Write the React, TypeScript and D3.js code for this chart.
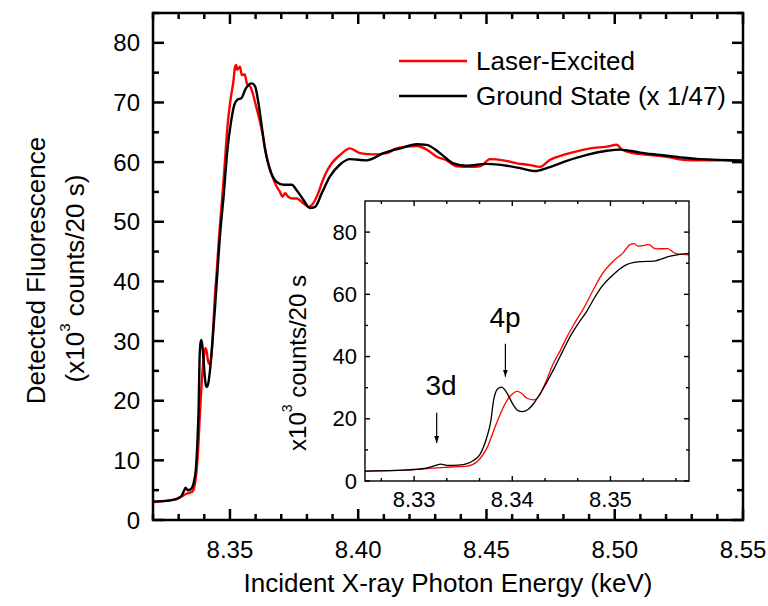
import React from "react";
import * as d3 from "d3";

// ---------- data ----------
const groundE = [
  8.32, 8.325, 8.329, 8.33, 8.3312, 8.3322, 8.3327, 8.3335, 8.3345, 8.3354, 8.336, 8.3367,
  8.3374, 8.3378, 8.3381, 8.3385, 8.3389, 8.3394, 8.3401, 8.3406, 8.341, 8.3416, 8.3422,
  8.3432, 8.3442, 8.3451, 8.3459, 8.3468, 8.3476, 8.3483, 8.349, 8.3503, 8.3517, 8.353,
  8.3544, 8.3561, 8.3585, 8.3598, 8.3611, 8.3624, 8.3637, 8.3656, 8.3682, 8.3708, 8.3741,
  8.376, 8.3786, 8.3812, 8.3832, 8.3858, 8.389, 8.3929, 8.3968, 8.4033, 8.4098, 8.4163,
  8.4228, 8.4267, 8.4319, 8.4371, 8.4423, 8.4501, 8.4579, 8.4631, 8.4689, 8.4735, 8.4813,
  8.4891, 8.4969, 8.5021, 8.5099, 8.5177, 8.5255, 8.5333, 8.55,
];
const groundV = [
  3.1, 3.2, 3.5, 3.7, 4.1, 5.0, 5.4, 5.0, 5.1, 5.6, 6.5, 8.5,
  14.0, 19.0, 26.0, 29.6, 30.2, 28.6, 24.5, 22.6, 22.3, 23.0, 25.0,
  30.0, 35.8, 41.5, 46.5, 51.0, 54.6, 58.5, 62.0, 66.4, 69.6, 70.5,
  70.7, 72.3, 73.2, 72.7, 69.9, 66.0, 62.1, 58.7, 56.7, 56.2, 56.2,
  55.3, 53.7, 52.3, 52.5, 54.8, 57.6, 59.6, 60.5, 60.3, 61.5, 62.3,
  63.0, 62.9, 61.5, 59.8, 59.4, 59.7, 59.4, 59.0, 58.5, 59.0, 60.2,
  61.2, 61.9, 62.1, 61.6, 61.2, 60.8, 60.5, 60.3,
];

const laserE = [
  8.32, 8.325, 8.329, 8.331, 8.3331, 8.3345, 8.3354, 8.3364, 8.3374, 8.3384, 8.3393, 8.34,
  8.3405, 8.3409, 8.3415, 8.3422, 8.3428, 8.3435, 8.3442, 8.3449, 8.3456, 8.3464, 8.3473,
  8.3481, 8.349, 8.3503, 8.3513, 8.352, 8.3524, 8.3528, 8.3535, 8.3539, 8.3546, 8.3558,
  8.3566, 8.3581, 8.3604, 8.3624, 8.3643, 8.3663, 8.3682, 8.3695, 8.3705, 8.3715, 8.3727,
  8.3745, 8.376, 8.3786, 8.3805, 8.3819, 8.3844, 8.3858, 8.3871, 8.3897, 8.3929, 8.3968,
  8.4007, 8.4059, 8.4111, 8.4143, 8.4189, 8.4228, 8.4267, 8.4306, 8.4345, 8.4384, 8.4436,
  8.4475, 8.4514, 8.4566, 8.4618, 8.467, 8.4709, 8.4748, 8.48, 8.4852, 8.4904, 8.4969,
  8.5008, 8.5027, 8.5073, 8.5138, 8.5203, 8.5267, 8.5333, 8.5423, 8.55,
];
const laserV = [
  3.0, 3.2, 3.5, 3.9, 4.4, 4.6, 4.8, 6.2, 10.5, 18.6, 25.0, 28.0,
  28.8, 28.3, 26.6, 26.1, 27.7, 32.5, 37.9, 42.0, 46.5, 51.0, 55.7,
  60.5, 65.8, 70.7, 73.4, 76.0, 76.3, 75.5, 75.8, 76.0, 74.6, 74.7,
  73.2, 72.5, 69.0, 65.4, 60.9, 57.9, 55.9, 55.0, 54.2, 54.8, 54.2,
  53.9, 53.9, 53.1, 52.5, 52.8, 54.8, 56.5, 57.9, 59.8, 61.2, 62.3,
  61.5, 61.3, 61.5, 62.2, 62.6, 62.7, 62.1, 60.9, 60.3, 59.3, 59.2,
  59.3, 60.5, 60.3, 59.8, 59.5, 59.2, 60.4, 61.2, 61.8, 62.3, 62.6,
  62.9, 62.1, 61.5, 61.2, 60.9, 60.4, 60.3, 60.3, 60.0,
];

const mainXTicks = [8.35, 8.4, 8.45, 8.5, 8.55];
const mainYTicks = [0, 10, 20, 30, 40, 50, 60, 70, 80];
const insetXTicks = [8.33, 8.34, 8.35];
const insetYTicks = [0, 20, 40, 60, 80];

const seriesNames = ["Laser-Excited", "Ground State (x 1/47)"];
const seriesColors = ["#ff0000", "#000000"];

// annotations (energy, value) in inset coordinates
const annotations = [
  { label: "3d", textE: 8.33274, textV: 27.7, arrowE: 8.3323, fromV: 21.9, toV: 12.2 },
  { label: "4p", textE: 8.33926, textV: 49.6, arrowE: 8.3393, fromV: 44.1, toV: 33.5 },
];

const FONT = "'Liberation Sans', Arial, Helvetica, sans-serif";

type Pt = [number, number];
const zip = (e: number[], v: number[]): Pt[] => e.map((x, i) => [x, v[i]]);

export default function App() {
  const W = 768;
  const H = 606;

  // main axes
  const mx = d3.scaleLinear().domain([8.32, 8.55]).range([153, 743]);
  const my = d3.scaleLinear().domain([0, 85]).range([520, 13]);
  // inset axes
  const ix = d3.scaleLinear().domain([8.325, 8.358]).range([365, 689]);
  const iy = d3.scaleLinear().domain([0, 90]).range([481, 201]);

  const laser = zip(laserE, laserV);
  const ground = zip(groundE, groundV);

  const mainLine = d3.line<Pt>().x((d) => mx(d[0])).y((d) => my(d[1])).curve(d3.curveMonotoneX);
  const insetLine = d3.line<Pt>().x((d) => ix(d[0])).y((d) => iy(d[1])).curve(d3.curveMonotoneX);

  const [mx0, mx1] = mx.range();
  const [my0, my1] = my.range();
  const [ix0, ix1] = ix.range();
  const [iy0, iy1] = iy.range();

  const mainXMinor = mx.ticks(23).filter((t) => !mainXTicks.some((m) => Math.abs(m - t) < 1e-6));
  const mainYMinor = my.ticks(17).filter((t) => !mainYTicks.some((m) => Math.abs(m - t) < 1e-6));
  const insetStep = 0.01 / 3;
  const insetXMinor = d3
    .range(-2, 10)
    .map((k) => 8.33 + k * insetStep)
    .filter((t) => t > 8.325 && t < 8.358 && !insetXTicks.some((m) => Math.abs(m - t) < 1e-6));
  const insetYMinor = [10, 30, 50, 70];

  const mainMaj = 11;
  const mainMin = 6;
  const inMaj = 5;
  const inMin = 3;

  return (
    <svg
      width={W}
      height={H}
      viewBox={`0 0 ${W} ${H}`}
      style={{ position: "absolute", left: 0, top: 0, background: "#fff" }}
      fontFamily={FONT}
    >
      <defs>
        <clipPath id="mainClip">
          <rect x={mx0} y={my1} width={mx1 - mx0} height={my0 - my1} />
        </clipPath>
        <clipPath id="insetClip">
          <rect x={ix0} y={iy1} width={ix1 - ix0} height={iy0 - iy1} />
        </clipPath>
        <marker id="arrowHead" viewBox="0 0 10 10" refX="10" refY="5" markerWidth="6" markerHeight="8" orient="auto">
          <path d="M0,1.5 L10,5 L0,8.5 z" fill="#000" />
        </marker>
      </defs>
      <rect x={0} y={0} width={W} height={H} fill="#fff" />

      {/* main curves */}
      <g clipPath="url(#mainClip)" fill="none" strokeLinejoin="round">
        <path d={mainLine(laser) || ""} stroke={seriesColors[0]} strokeWidth={2.4} />
        <path d={mainLine(ground) || ""} stroke={seriesColors[1]} strokeWidth={2.4} />
      </g>

      {/* main frame and ticks */}
      <g stroke="#000" strokeWidth={2.5}>
        <rect x={mx0} y={my1} width={mx1 - mx0} height={my0 - my1} fill="none" />
        {mainXTicks.map((t) => (
          <g key={"mxt" + t}>
            <line x1={mx(t)} x2={mx(t)} y1={my0} y2={my0 - mainMaj} />
            <line x1={mx(t)} x2={mx(t)} y1={my1} y2={my1 + mainMaj} />
          </g>
        ))}
        {mainXMinor.map((t) => (
          <g key={"mxm" + t}>
            <line x1={mx(t)} x2={mx(t)} y1={my0} y2={my0 - mainMin} />
            <line x1={mx(t)} x2={mx(t)} y1={my1} y2={my1 + mainMin} />
          </g>
        ))}
        {mainYTicks.map((t) => (
          <g key={"myt" + t}>
            <line x1={mx0} x2={mx0 + mainMaj} y1={my(t)} y2={my(t)} />
            <line x1={mx1} x2={mx1 - mainMaj} y1={my(t)} y2={my(t)} />
          </g>
        ))}
        {mainYMinor.map((t) => (
          <g key={"mym" + t}>
            <line x1={mx0} x2={mx0 + mainMin} y1={my(t)} y2={my(t)} />
            <line x1={mx1} x2={mx1 - mainMin} y1={my(t)} y2={my(t)} />
          </g>
        ))}
      </g>

      {/* main tick labels */}
      <g fontSize={24} fill="#000">
        {mainXTicks.map((t) => (
          <text key={"mxl" + t} x={mx(t)} y={558} textAnchor="middle">
            {t.toFixed(2)}
          </text>
        ))}
        {mainYTicks.map((t) => (
          <text key={"myl" + t} x={140} y={my(t)} textAnchor="end" dominantBaseline="central">
            {t}
          </text>
        ))}
      </g>

      {/* axis titles */}
      <text x={(mx0 + mx1) / 2} y={592} fontSize={26} textAnchor="middle">
        Incident X-ray Photon Energy (keV)
      </text>
      <text transform={`translate(36, ${(my0 + my1) / 2 + 4}) rotate(-90)`} fontSize={26} textAnchor="middle" dominantBaseline="central">
        Detected Fluorescence
      </text>
      <text transform={`translate(75, ${(my0 + my1) / 2 + 12}) rotate(-90)`} fontSize={26} textAnchor="middle" dominantBaseline="central">
        (x10<tspan fontSize={15} dy={-11}>3</tspan>
        <tspan dy={11}> counts/20 s)</tspan>
      </text>

      {/* legend */}
      <g>
        {seriesNames.map((name, i) => (
          <g key={name}>
            <line x1={399} x2={467} y1={61 + i * 35} y2={61 + i * 35} stroke={seriesColors[i]} strokeWidth={2.5} />
            <text x={476} y={61 + i * 35} fontSize={26} dominantBaseline="central">
              {name}
            </text>
          </g>
        ))}
      </g>

      {/* inset */}
      <rect x={ix0} y={iy1} width={ix1 - ix0} height={iy0 - iy1} fill="#fff" />
      <g clipPath="url(#insetClip)" fill="none" strokeLinejoin="round">
        <path d={insetLine(laser) || ""} stroke={seriesColors[0]} strokeWidth={1.3} />
        <path d={insetLine(ground) || ""} stroke={seriesColors[1]} strokeWidth={1.3} />
      </g>
      <g stroke="#000" strokeWidth={1.4}>
        <rect x={ix0} y={iy1} width={ix1 - ix0} height={iy0 - iy1} fill="none" />
        {insetXTicks.map((t) => (
          <g key={"ixt" + t}>
            <line x1={ix(t)} x2={ix(t)} y1={iy0} y2={iy0 - inMaj} />
            <line x1={ix(t)} x2={ix(t)} y1={iy1} y2={iy1 + inMaj} />
          </g>
        ))}
        {insetXMinor.map((t) => (
          <g key={"ixm" + t}>
            <line x1={ix(t)} x2={ix(t)} y1={iy0} y2={iy0 - inMin} />
            <line x1={ix(t)} x2={ix(t)} y1={iy1} y2={iy1 + inMin} />
          </g>
        ))}
        {insetYTicks.map((t) => (
          <g key={"iyt" + t}>
            <line x1={ix0} x2={ix0 + inMaj} y1={iy(t)} y2={iy(t)} />
            <line x1={ix1} x2={ix1 - inMaj} y1={iy(t)} y2={iy(t)} />
          </g>
        ))}
        {insetYMinor.map((t) => (
          <g key={"iym" + t}>
            <line x1={ix0} x2={ix0 + inMin} y1={iy(t)} y2={iy(t)} />
            <line x1={ix1} x2={ix1 - inMin} y1={iy(t)} y2={iy(t)} />
          </g>
        ))}
      </g>
      <g fontSize={22} fill="#000">
        {insetXTicks.map((t) => (
          <text key={"ixl" + t} x={ix(t)} y={507} textAnchor="middle">
            {t.toFixed(2)}
          </text>
        ))}
        {insetYTicks.map((t) => (
          <text key={"iyl" + t} x={357} y={iy(t)} textAnchor="end" dominantBaseline="central">
            {t}
          </text>
        ))}
      </g>
      <text transform={`translate(297, ${(iy0 + iy1) / 2 + 22}) rotate(-90)`} fontSize={24} textAnchor="middle" dominantBaseline="central">
        x10<tspan fontSize={14} dy={-10}>3</tspan>
        <tspan dy={10}> counts/20 s</tspan>
      </text>

      {/* annotations */}
      {annotations.map((a) => (
        <g key={a.label}>
          <text x={ix(a.textE)} y={iy(a.textV)} fontSize={28} textAnchor="middle">
            {a.label}
          </text>
          <line
            x1={ix(a.arrowE)}
            x2={ix(a.arrowE)}
            y1={iy(a.fromV)}
            y2={iy(a.toV)}
            stroke="#000"
            strokeWidth={1.2}
            markerEnd="url(#arrowHead)"
          />
        </g>
      ))}
    </svg>
  );
}
